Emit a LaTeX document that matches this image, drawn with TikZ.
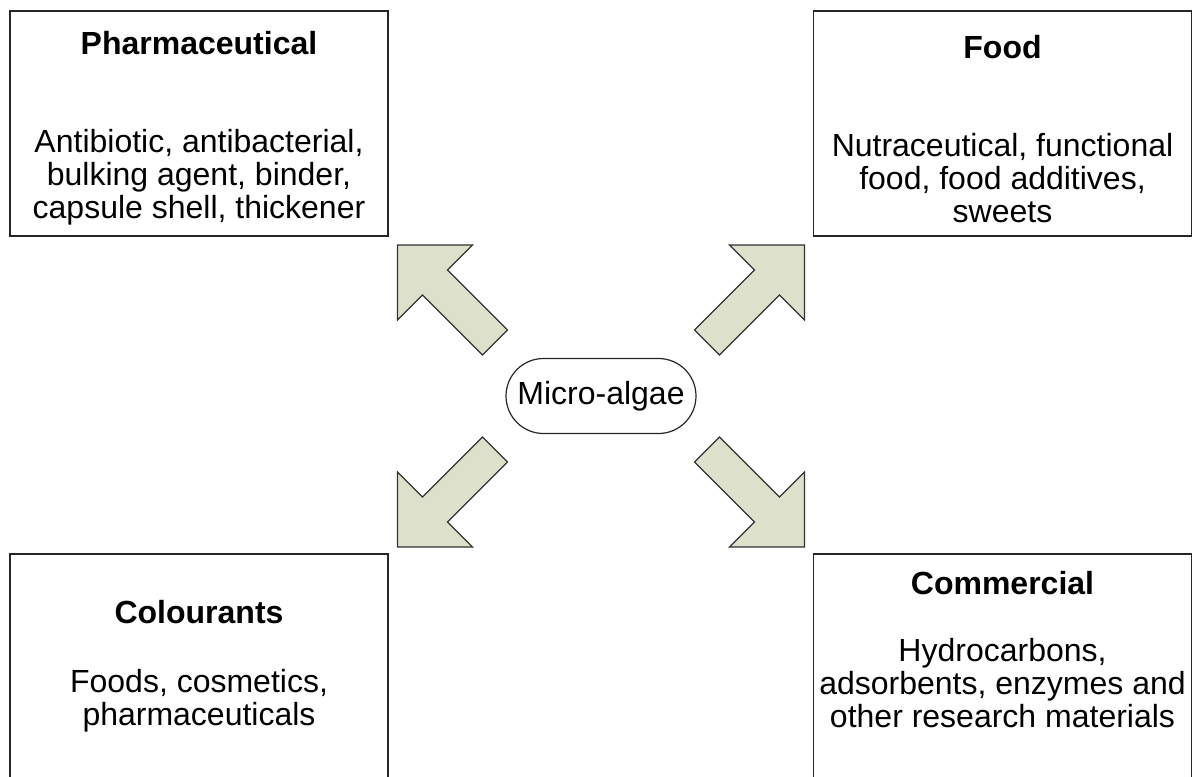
\documentclass[tikz,border=0pt]{standalone}
\usepackage{fontspec}
\setmainfont{Liberation Sans}
\usetikzlibrary{positioning, calc}

\definecolor{arrowfill}{HTML}{DDE1CB}

\tikzset{
  appbox/.style={draw=black!85, line width=0.65pt, rectangle, minimum width=189pt,
    minimum height=112.5pt, align=center, inner sep=0pt},
  hub/.style={draw=black!85, line width=0.6pt, rectangle, rounded corners=18.75pt,
    minimum width=95pt, minimum height=37.5pt, inner sep=0pt},
  blockarrow/.pic={
    \draw[fill=arrowfill, draw=black!80, line width=0.6pt]
      (-12.5,12.5) -- (47.5,72.5) -- (22.5,97.5) -- (97.5,97.5)
      -- (97.5,22.5) -- (72.5,47.5) -- (12.5,-12.5) -- cycle;
  }
}

\begin{document}
\begin{tikzpicture}[x=0.5pt, y=-0.5pt, font=\fontsize{16}{16.5}\selectfont]

\useasboundingbox (0,0) rectangle (1193,776);

\node[hub] (alga) at (601,396) {Micro-algae};

% top row: extra height above the title pushes the text a little down
\node[appbox] (pharma) at (199,123.5) {\rule{0pt}{16.7pt}\textbf{Pharmaceutical}\\[32.5pt]Antibiotic, antibacterial,\\bulking agent, binder,\\capsule shell, thickener};
\node[appbox] (food) at (1002.5,123.5) {\rule{0pt}{16.7pt}\textbf{Food}\\[32.5pt]Nutraceutical, functional\\food, food additives,\\sweets};
% bottom row
\node[appbox] (colour) at (199,666.5) {\textbf{Colourants}\\[18pt]Foods, cosmetics,\\pharmaceuticals};
\node[appbox] (commerce) at (1002.5,666.5) {\textbf{Commercial}\\[17pt]Hydrocarbons,\\adsorbents, enzymes and\\other research materials\rule[-17pt]{0pt}{17pt}};

\foreach \sx/\sy in {-1/-1,1/-1,-1/1,1/1} % one arrow per corner
\pic[xscale=\sx, yscale=\sy] at ($(alga.center)+(\sx*106,\sy*53.5)$) {blockarrow};

\end{tikzpicture}
\end{document}
